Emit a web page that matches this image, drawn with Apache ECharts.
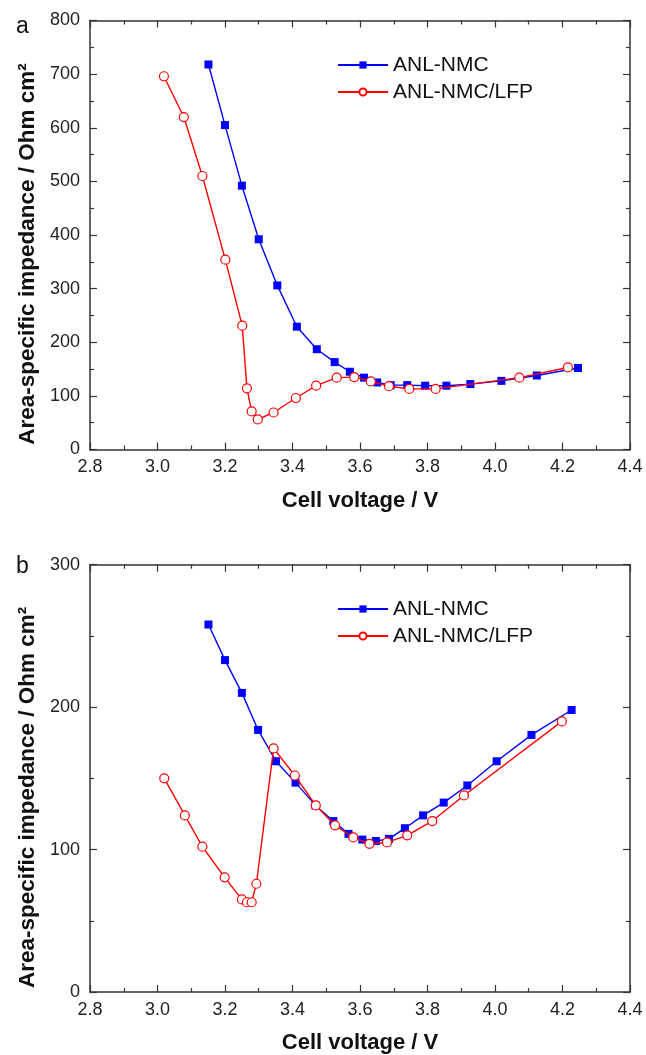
<!DOCTYPE html>
<html>
<head>
<meta charset="utf-8">
<script src="https://cdn.jsdelivr.net/npm/echarts@6/dist/echarts.min.js"></script>
<style>
html,body{margin:0;padding:0;background:#fff;}
#chart{width:646px;height:1055px;}
</style>
</head>
<body>
<div id="chart"></div>
<script>
// ---- data ----
const seriesNames = ['ANL-NMC', 'ANL-NMC/LFP'];
const xTicks = ['2.8','3.0','3.2','3.4','3.6','3.8','4.0','4.2','4.4'];

// panel a
const aNmcV = [3.151, 3.200, 3.250, 3.300, 3.355, 3.413, 3.472, 3.525, 3.570, 3.612, 3.651, 3.691, 3.740, 3.793, 3.856, 3.927, 4.019, 4.124, 4.246];
const aNmcZ = [718, 605, 492, 392, 306, 229, 187, 163, 145, 134, 125, 120, 120, 119, 119, 122, 128, 138, 152];
const aLfpV = [3.019, 3.078, 3.133, 3.201, 3.251, 3.265, 3.279, 3.297, 3.344, 3.410, 3.470, 3.531, 3.583, 3.632, 3.686, 3.746, 3.824, 4.072, 4.216];
const aLfpZ = [696, 620, 510, 354, 231, 114, 71, 56, 69, 96, 119, 134, 135, 127, 118, 113, 113, 134, 153];

// panel b
const bNmcV = [3.151, 3.200, 3.250, 3.298, 3.351, 3.409, 3.468, 3.521, 3.566, 3.607, 3.647, 3.686, 3.733, 3.787, 3.848, 3.918, 4.005, 4.108, 4.227];
const bNmcZ = [258, 233, 210, 184, 162, 147, 131, 120, 111, 107, 106, 107.5, 115, 124, 133, 145, 162, 180.5, 198];
const bLfpV = [3.020, 3.081, 3.133, 3.199, 3.250, 3.265, 3.279, 3.293, 3.344, 3.407, 3.469, 3.526, 3.580, 3.628, 3.680, 3.740, 3.814, 3.908, 4.198];
const bLfpZ = [150, 124, 102, 80.5, 65, 63, 63, 76, 171, 152, 131, 117, 108.5, 104, 105, 110, 120, 138, 190];

const yTitle = 'Area-specific impedance / Ohm cm\u00B2';
const xTitle = 'Cell voltage / V';

// ---- styling helpers ----
const FONT = '"Liberation Sans", Arial, sans-serif';
const AX = '#333';
const pair = (xs, ys) => xs.map((x, i) => [x, ys[i]]);

function xAxes(gridIndex) {
  const common = {
    gridIndex, type: 'value', min: 2.8, max: 4.4, interval: 0.2,
    axisLine: {show: true, onZero: false, lineStyle: {color: AX, width: 1.5}},
    axisTick: {show: true, inside: true, length: 7, lineStyle: {color: AX, width: 1.2}},
    minorTick: {show: true, splitNumber: 2, length: 4, lineStyle: {color: AX, width: 1.2}},
    splitLine: {show: false}, minorSplitLine: {show: false}
  };
  return [
    Object.assign({}, common, {
      position: 'bottom',
      name: xTitle, nameLocation: 'middle', nameGap: 40,
      nameTextStyle: {fontFamily: FONT, fontSize: 22, fontWeight: 'bold', color: '#111'},
      axisLabel: {show: true, margin: 9, fontFamily: FONT, fontSize: 18, color: '#222',
        formatter: v => xTicks[Math.round((v - 2.8) / 0.2)] || ''}
    }),
    Object.assign({}, common, {position: 'top', axisLabel: {show: false}})
  ];
}

function yAxes(gridIndex, max) {
  const common = {
    gridIndex, type: 'value', min: 0, max: max, interval: 100,
    axisLine: {show: true, onZero: false, lineStyle: {color: AX, width: 1.5}},
    axisTick: {show: true, inside: true, length: 7, lineStyle: {color: AX, width: 1.2}},
    minorTick: {show: true, splitNumber: 2, length: 4, lineStyle: {color: AX, width: 1.2}},
    splitLine: {show: false}, minorSplitLine: {show: false}
  };
  return [
    Object.assign({}, common, {
      position: 'left',
      name: yTitle, nameLocation: 'middle', nameGap: 51, nameRotate: 90,
      nameTextStyle: {fontFamily: FONT, fontSize: 22.5, fontWeight: 'bold', color: '#111', padding: [0, 38, 0, 0]},
      axisLabel: {show: true, margin: 10, fontFamily: FONT, fontSize: 18, color: '#222'}
    }),
    Object.assign({}, common, {position: 'right', axisLabel: {show: false}})
  ];
}

function nmcSeries(name, xi, yi, data) {
  return {
    name, type: 'line', xAxisIndex: xi, yAxisIndex: yi, data,
    symbol: 'rect', symbolSize: 8,
    lineStyle: {color: '#0000ff', width: 1.4},
    itemStyle: {color: '#0000ff', borderWidth: 0},
    z: 2
  };
}
function lfpSeries(name, xi, yi, data) {
  return {
    name, type: 'line', xAxisIndex: xi, yAxisIndex: yi, data,
    symbol: 'circle', symbolSize: 9, showAllSymbol: true,
    lineStyle: {color: '#ff0000', width: 1.4},
    itemStyle: {color: '#ffffff', borderColor: '#ff0000', borderWidth: 1.2},
    z: 3
  };
}

function legend(top) {
  return {
    orient: 'vertical', left: 337, top: top, padding: 0,
    itemWidth: 50, itemHeight: 9, itemGap: 6,
    textStyle: {fontFamily: FONT, fontSize: 21, color: '#111'},
    data: seriesNames
  };
}

const chart = echarts.init(document.getElementById('chart'), null, {renderer: 'canvas'});
chart.setOption({
  animation: false,
  backgroundColor: '#fff',
  grid: [
    {left: 90, right: 16, top: 20.5, height: 429},
    {left: 90, right: 16, top: 564.7, height: 428.6}
  ],
  xAxis: [].concat(xAxes(0), xAxes(1)),
  yAxis: [].concat(yAxes(0, 800), yAxes(1, 300)),
  legend: [legend(54.5), legend(598.5)],
  series: [
    nmcSeries(seriesNames[0], 0, 0, pair(aNmcV, aNmcZ)),
    lfpSeries(seriesNames[1], 0, 0, pair(aLfpV, aLfpZ)),
    nmcSeries(seriesNames[0], 2, 2, pair(bNmcV, bNmcZ)),
    lfpSeries(seriesNames[1], 2, 2, pair(bLfpV, bLfpZ))
  ],
  graphic: [
    {type: 'text', left: 16, top: 15, style: {text: 'a', fontFamily: FONT, fontSize: 23, fill: '#111'}},
    {type: 'text', left: 16, top: 555, style: {text: 'b', fontFamily: FONT, fontSize: 23, fill: '#111'}}
  ]
});
</script>
</body>
</html>
